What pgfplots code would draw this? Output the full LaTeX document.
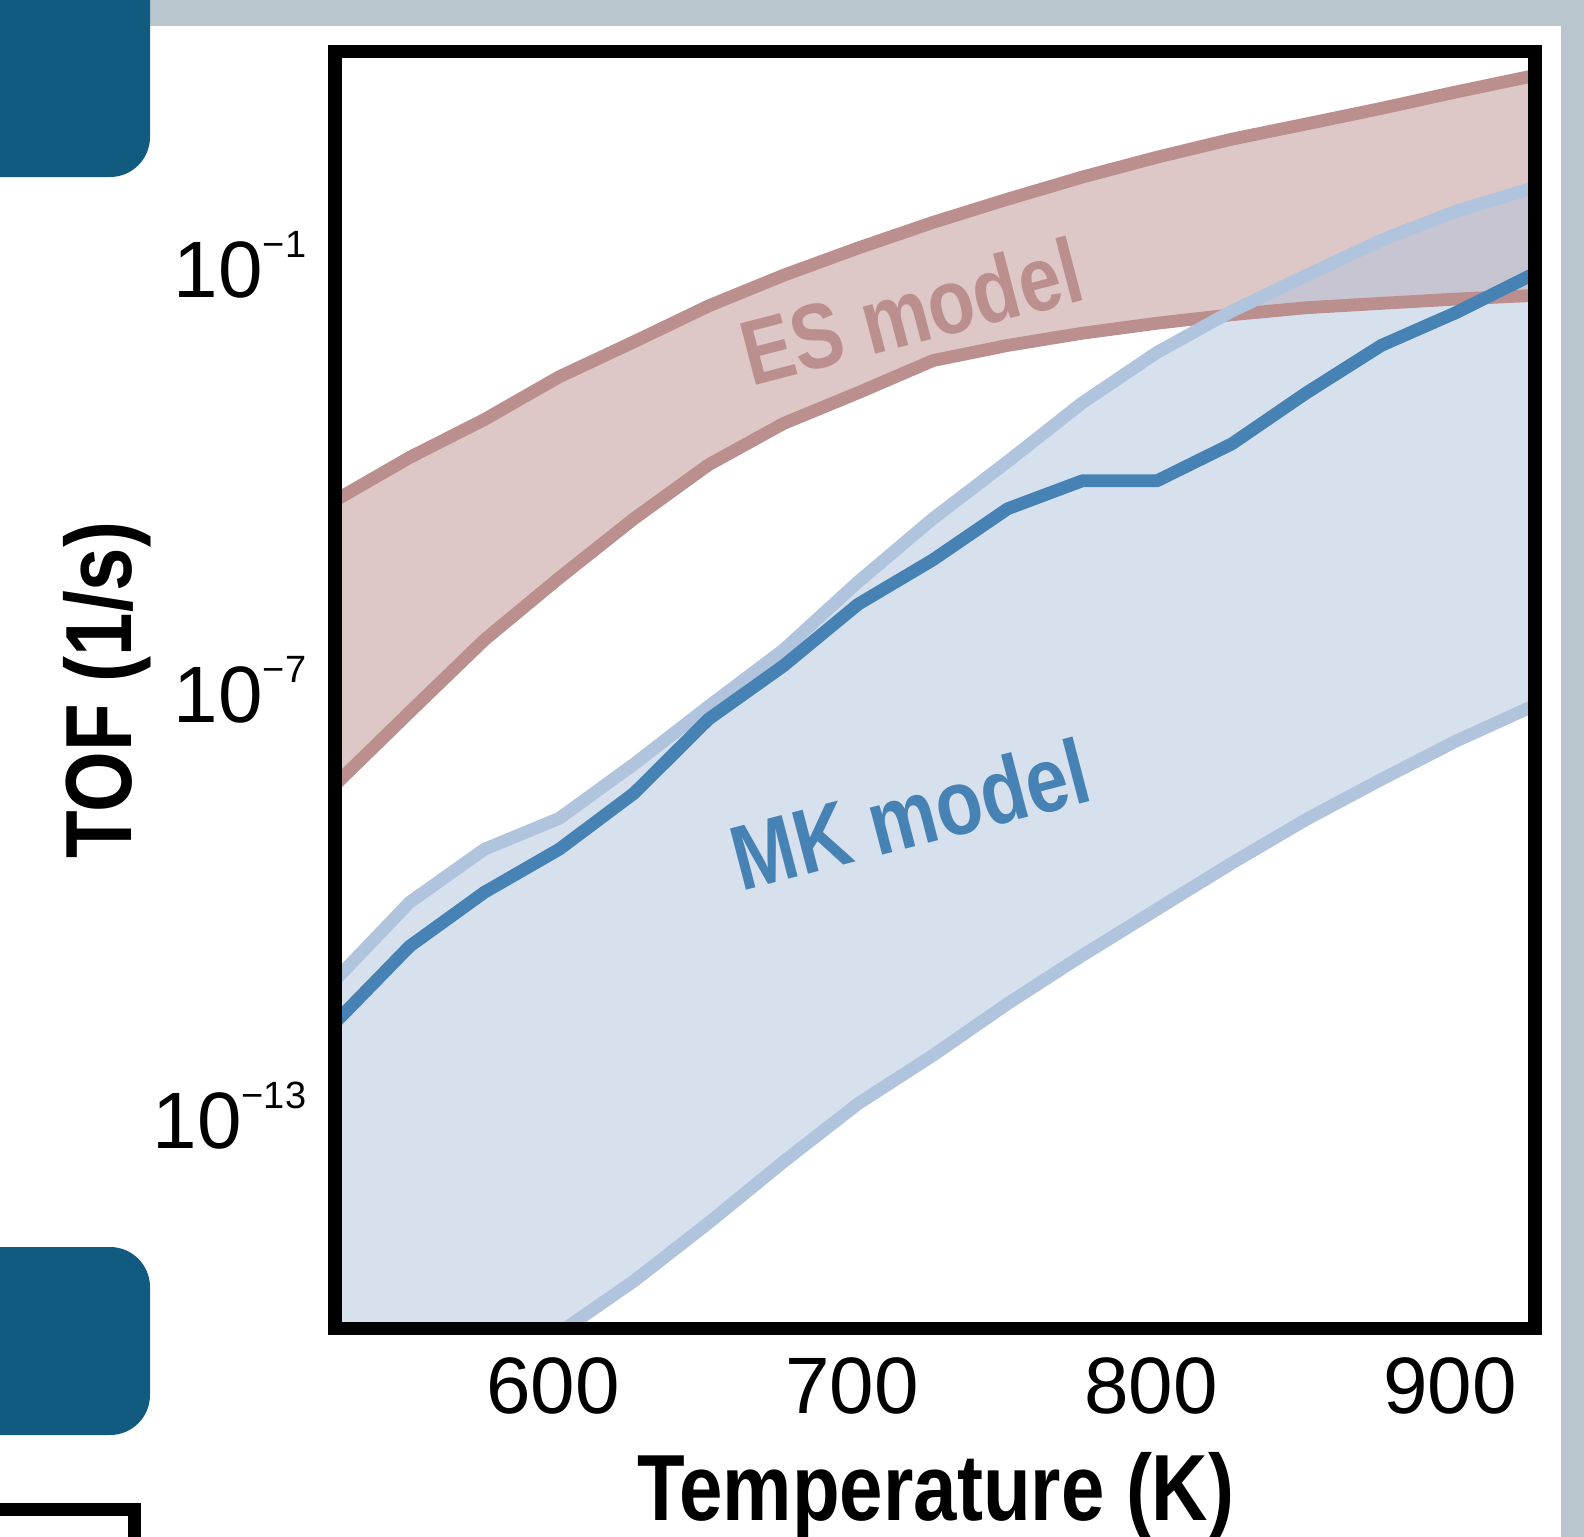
\documentclass[border=0pt]{standalone}
\usepackage{pgfplots}
\pgfplotsset{compat=1.18}
\usepackage{pgfplotstable}
\usepgfplotslibrary{fillbetween}
\usepackage{fontspec}
\setmainfont{Liberation Sans}
\newfontface\condbold[FakeStretch=0.83]{Liberation Sans Bold}
\definecolor{rosyb}{RGB}{188,143,143}
\definecolor{lsb}{RGB}{176,196,222}
\definecolor{stb}{RGB}{70,130,180}
\definecolor{frameg}{RGB}{186,198,205}
\definecolor{boxb}{RGB}{18,91,128}
\newcommand\tl[1]{10\raisebox{10pt}{\fontsize{9.5pt}{9.5pt}\selectfont −#1}}

\pgfplotstableread{
T   esU     esL      mkU      mkM      mkL
527 4.7e-5  4.6e-9   8.1e-12  2.04e-12 2.5e-19
552 1.9e-4  4.9e-8   1.02e-10 2.45e-11 1.78e-18
577 6.5e-4  5.1e-7   5.7e-10  1.41e-10 1.26e-17
602 2.6e-3  3.8e-6   1.55e-9  5.7e-10  8.7e-17
627 8.1e-3  2.6e-5   9.0e-9   3.5e-9   4.68e-16
652 2.6e-2  1.5e-4   5.9e-8   3.9e-8   3.09e-15
677 7.0e-2  5.7e-4   3.67e-7  2.19e-7  2.24e-14
702 1.7e-1  1.55e-3  3.35e-6  1.62e-6  1.48e-13
727 3.9e-1  4.4e-3   2.6e-5   6.84e-6  7.08e-13
752 8.3e-1  7.2e-3   1.66e-4  3.59e-5  3.8e-12
777 1.70    1.07e-2  1.12e-3  8.9e-5   1.82e-11
802 3.24    1.48e-2  5.75e-3  8.9e-5   8.13e-11
827 5.82    1.95e-2  2.19e-2  2.95e-4  3.63e-10
852 9.55    2.45e-2  7.0e-2   1.55e-3  1.51e-9
877 15.8    2.82e-2  2.19e-1  7.2e-3   5.5e-9
902 26.9    3.24e-2  5.62e-1  2.09e-2  1.91e-8
927 44.7    3.63e-2  1.17     7.0e-2   5.75e-8
}\data

\begin{document}
\begin{tikzpicture}
% page decorations
\fill[frameg] (0,377.5pt) rectangle (400pt,390pt);
\fill[frameg] (390.25pt,-5pt) rectangle (400pt,390pt);
\fill[boxb, rounded corners=10pt] (-15pt,339.75pt) rectangle (37.5pt,400pt);
\fill[boxb, rounded corners=10pt] (-15pt,25.25pt) rectangle (37.5pt,72.25pt);
\fill[black] (-5pt,5pt) rectangle (35.25pt,8.25pt);
\fill[black] (32pt,-5pt) rectangle (35.25pt,8.25pt);

\begin{axis}[
  at={(83.75pt,51.875pt)}, anchor=south west,
  scale only axis, width=300pt, height=319.25pt,
  axis on top,
  xmin=527, xmax=928.4,
  ymode=log, ymin=1e-16, ymax=1e2,
  xtick={600,700,800,900}, xticklabels={600,700,800,900},
  ytick={1e-13,1e-7,1e-1}, yticklabels={\tl{13},\tl{7},\tl{1}},
  yminorticks=false,
  major tick length=0pt,
  ticklabel style={font=\fontsize{20pt}{20pt}\selectfont, inner sep=0pt},
  xticklabel shift=7.1pt, yticklabel shift=7pt,
  axis line style={line width=3.4pt, line join=miter, line cap=rect},
  every axis plot/.append style={line join=round},
]
\addplot[draw=none, name path=esU] table[x=T,y=esU]{\data};
\addplot[draw=none, name path=esL] table[x=T,y=esL]{\data};
\addplot[fill=rosyb, fill opacity=0.5, draw=none] fill between[of=esU and esL];
\addplot[rosyb, line width=3.2pt] table[x=T,y=esU]{\data};
\addplot[rosyb, line width=3.2pt] table[x=T,y=esL]{\data};

\addplot[draw=none, name path=mkU] table[x=T,y=mkU]{\data};
\addplot[draw=none, name path=mkL] table[x=T,y=mkL]{\data};
\addplot[fill=lsb, fill opacity=0.5, draw=none] fill between[of=mkU and mkL];
\addplot[lsb, line width=3.2pt] table[x=T,y=mkU]{\data};
\addplot[lsb, line width=3.2pt] table[x=T,y=mkL]{\data};
\addplot[stb, line width=3.2pt] table[x=T,y=mkM]{\data};

\node[rosyb, rotate=14.6, font={\condbold\fontsize{23pt}{23pt}\selectfont}] at (axis cs:719.7,2.2e-2) {ES model};
\node[stb, rotate=14.6, font={\condbold\fontsize{23pt}{23pt}\selectfont}] at (axis cs:719.4,1.78e-9) {MK model};
\end{axis}

\node[rotate=90, anchor=base, inner sep=0pt, font={\condbold\fontsize{23.5pt}{23.5pt}\selectfont}] at (32.75pt,211.5pt) {TOF (1/s)};
\node[anchor=base, inner sep=0pt, font={\condbold\fontsize{23.5pt}{23.5pt}\selectfont}] at (234pt,4pt) {Temperature (K)};
\pgfresetboundingbox
\path[use as bounding box] (0,0) rectangle (396pt,384pt);
\end{tikzpicture}
\end{document}
